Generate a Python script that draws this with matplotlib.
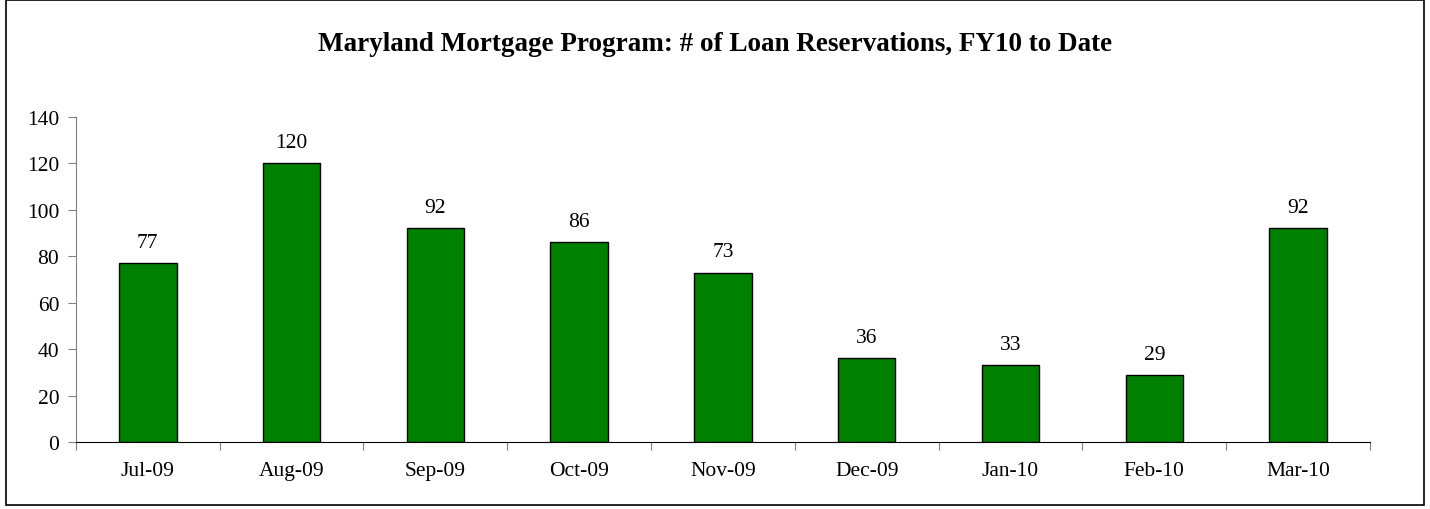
import matplotlib.pyplot as plt
from matplotlib.patches import Rectangle

months = ["Jul-09", "Aug-09", "Sep-09", "Oct-09", "Nov-09",
          "Dec-09", "Jan-10", "Feb-10", "Mar-10"]
reservations = [77, 120, 92, 86, 73, 36, 33, 29, 92]
y_ticks = [0, 20, 40, 60, 80, 100, 120, 140]

plt.rcParams["font.family"] = ["Liberation Serif", "DejaVu Serif"]

fig = plt.figure(figsize=(14.3, 5.1), dpi=100)
ax = fig.add_axes([0.0531, 0.1314, 0.9049, 0.6372])

x = list(range(len(months)))
ax.bar(x, reservations, width=0.4, color="#008000",
       edgecolor="black", linewidth=1.0, zorder=2)

for xi, v in zip(x, reservations):
    ax.annotate(str(v), (xi, v), xytext=(0, 8), textcoords="offset points",
                ha="center", va="bottom", fontsize=15.5)

ax.set_xlim(-0.5, len(months) - 0.5)
ax.set_ylim(0, 140)
ax.set_yticks(y_ticks)
ax.tick_params(axis="y", labelsize=15.5, direction="out", length=6,
               color="#808080", pad=6)

# category ticks sit between bars, like Excel
ax.set_xticks([i - 0.5 for i in range(len(months) + 1)])
ax.set_xticklabels([])
ax.set_xticks(x, minor=True)
ax.set_xticklabels(months, minor=True, fontsize=15.5)
ax.tick_params(axis="x", which="major", direction="out", length=6,
               color="#808080")
ax.tick_params(axis="x", which="minor", length=0, pad=14)

for side in ["top", "right"]:
    ax.spines[side].set_visible(False)
ax.spines["left"].set_color("#808080")
ax.spines["bottom"].set_color("black")

fig.text(0.5, 0.912, "Maryland Mortgage Program: # of Loan Reservations, FY10 to Date",
         ha="center", va="center", fontsize=19.5, fontweight="bold")

fig.patches.append(Rectangle((0.004, 0.008), 0.992, 0.99, transform=fig.transFigure,
                             fill=False, edgecolor="black", linewidth=1.2))

fig.savefig("out.png", dpi=100)
